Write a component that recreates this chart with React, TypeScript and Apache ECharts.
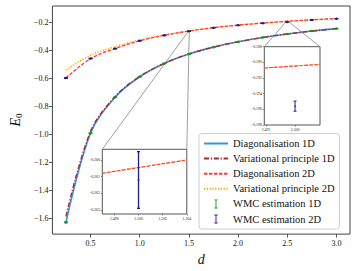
import React, { useEffect, useRef } from "react";
import * as echarts from "echarts";

// ---- data ----
const dValues = [0.25, 0.5, 0.75, 1.0, 1.25, 1.5, 1.75, 2.0, 2.25, 2.5, 2.75, 3.0];
const diag1D = [-1.629, -0.99, -0.733, -0.587, -0.492, -0.425, -0.375, -0.337, -0.306, -0.281, -0.26, -0.243];
const var1D = [-1.585, -0.977, -0.728, -0.585, -0.491, -0.424, -0.375, -0.337, -0.306, -0.281, -0.26, -0.243];
const diag2D = [-0.595, -0.458, -0.385, -0.33, -0.291, -0.2605, -0.236, -0.218, -0.203, -0.1905, -0.18, -0.171];
const var2D = [-0.54, -0.433, -0.372, -0.323, -0.288, -0.2603, -0.236, -0.218, -0.203, -0.1905, -0.18, -0.171];
const wmc1D = [-1.628, -0.991, -0.733, -0.587, -0.492, -0.425, -0.376, -0.337, -0.306, -0.281, -0.26, -0.243];
const wmc1DErr = [0.004, 0.003, 0.002, 0.002, 0.002, 0.002, 0.002, 0.002, 0.002, 0.002, 0.002, 0.002];
const wmc2D = [-0.596, -0.457, -0.386, -0.33, -0.291, -0.2612, -0.237, -0.219, -0.204, -0.1956, -0.181, -0.172];
const wmc2DErr = [0.003, 0.002, 0.002, 0.002, 0.002, 0.0017, 0.001, 0.001, 0.001, 0.00065, 0.001, 0.001];

// inset 1 (zoom near d = 1.5)
const inset1D = [1.497, 1.504];
const inset1Diag2D = [-0.2608, -0.26];
const inset1Var2D = [-0.26079, -0.25999];
// inset 2 (zoom near d = 2.5)
const inset2D = [2.4947, 2.5043];
const inset2Diag2D = [-0.19072, -0.19026];
const inset2Var2D = [-0.19071, -0.19025];

// ticks
const xTicks = [0.5, 1.0, 1.5, 2.0, 2.5, 3.0];
const yTicks = [-1.6, -1.4, -1.2, -1.0, -0.8, -0.6, -0.4, -0.2];
const inset1XTicks = [1.498, 1.5, 1.502, 1.504];
const inset1YTicks = [-0.263, -0.262, -0.261, -0.26];
const inset2XTicks = [2.495, 2.5];
const inset2YTicks = [-0.198, -0.196, -0.194, -0.192, -0.19, -0.188];

// axis ranges
const MAIN_X = [0.1125, 3.1375];
const MAIN_Y = [-1.712, -0.081];
const INSET1_X = [1.497, 1.504];
const INSET1_Y = [-0.26324, -0.25936];
const INSET2_X = [2.4947, 2.5043];
const INSET2_Y = [-0.198, -0.188];

const NAMES = [
  "Diagonalisation 1D",
  "Variational principle 1D",
  "Diagonalisation 2D",
  "Variational principle 2D",
  "WMC estimation 1D",
  "WMC estimation 2D",
];

const C_DIAG1 = "#3a93da";
const C_VAR1 = "#a52a2a";
const C_DIAG2 = "#ff3a3a";
const C_VAR2 = "#ffa500";
const C_WMC1 = "#119911";
const C_WMC2 = "#1c1c8c";

const FONT = "Liberation Serif";

const fmt = (v: number, dec: number) => (v < 0 ? "\u2212" : "") + Math.abs(v).toFixed(dec);
const zip = (xs: number[], ys: number[]) => xs.map((x, i) => [x, ys[i]]);
const zip3 = (xs: number[], ys: number[], es: number[]) => xs.map((x, i) => [x, ys[i], es[i]]);

const INSET1 = { left: 102.3, top: 149.3, width: 84.5, height: 64.7 };
const INSET2 = { left: 264.3, top: 46.7, width: 55.7, height: 78.3 };

function errorBar(color: string, capHalf: number, lw: number, r: number, opacity = 1) {
  return (params: any, api: any) => {
    const x = api.value(0);
    const y = api.value(1);
    const e = api.value(2);
    const c = api.coord([x, y]);
    const hi = api.coord([x, y + e]);
    const lo = api.coord([x, y - e]);
    const st = { stroke: color, lineWidth: lw, opacity };
    return {
      type: "group",
      children: [
        { type: "line", shape: { x1: c[0], y1: hi[1], x2: c[0], y2: lo[1] }, style: st },
        { type: "line", shape: { x1: c[0] - capHalf, y1: hi[1], x2: c[0] + capHalf, y2: hi[1] }, style: st },
        { type: "line", shape: { x1: c[0] - capHalf, y1: lo[1], x2: c[0] + capHalf, y2: lo[1] }, style: st },
        { type: "circle", shape: { cx: c[0], cy: c[1], r }, style: { fill: color, opacity } },
      ],
    };
  };
}

function lineSeries(name: string, data: number[][], color: string, width: number, type: any, idx: number, z: number) {
  return {
    type: "line",
    name,
    data,
    xAxisIndex: idx,
    yAxisIndex: idx,
    symbol: "none",
    smooth: 0.35,
    z,
    lineStyle: { color, width, type, cap: "butt" },
    itemStyle: { color },
  };
}

function insetAxes(idx: number, xr: number[], yr: number[], xt: number[], yt: number[], xdec: number, ydec: number) {
  const common = {
    gridIndex: idx,
    type: "value",
    splitLine: { show: false },
    axisLine: { show: false },
  };
  return {
    x: {
      ...common,
      min: xr[0],
      max: xr[1],
      axisTick: { show: true, customValues: xt, length: 1.5, lineStyle: { color: "#444", width: 0.6 } },
      axisLabel: { customValues: xt, formatter: (v: number) => fmt(v, xdec), fontSize: 3.8, margin: 2.5, color: "#222", fontFamily: FONT },
    },
    y: {
      ...common,
      min: yr[0],
      max: yr[1],
      axisTick: { show: true, customValues: yt, length: 1.5, lineStyle: { color: "#444", width: 0.6 } },
      axisLabel: { customValues: yt, formatter: (v: number) => fmt(v, ydec), fontSize: 3.8, margin: 2.5, color: "#222", fontFamily: FONT },
    },
  };
}

const errIcon =
  "path://M0,0h0.01v0.01h-0.01zM24,12h-0.01v-0.01h0.01zM10.4,1.5h3.2v0.9h-3.2zM10.4,9.6h3.2v0.9h-3.2zM11.55,2h0.9v8h-0.9z";

export default function App() {
  const ref = useRef<HTMLDivElement>(null);
  useEffect(() => {
    const chart = echarts.init(ref.current!, null, { renderer: "svg" });
    const a1 = insetAxes(1, INSET1_X, INSET1_Y, inset1XTicks, inset1YTicks, 3, 3);
    const a2 = insetAxes(2, INSET2_X, INSET2_Y, inset2XTicks, inset2YTicks, 3, 3);
    const inRange = (xr: number[]) =>
      zip3(dValues, wmc2D, wmc2DErr).filter((p) => p[0] >= xr[0] && p[0] <= xr[1]);
    const hideSym = { itemStyle: { opacity: 0 } };

    const option: any = {
      animation: false,
      backgroundColor: "#fff",
      textStyle: { fontFamily: FONT },
      grid: [
        { left: 47, top: 6, width: 303, height: 229, show: true, borderColor: "#444", borderWidth: 1, backgroundColor: "transparent" },
        { ...INSET1, show: true, borderColor: "#555", borderWidth: 1, backgroundColor: "#fff" },
        { ...INSET2, show: true, borderColor: "#555", borderWidth: 1, backgroundColor: "#fff" },
      ],
      xAxis: [
        {
          gridIndex: 0,
          type: "value",
          min: MAIN_X[0],
          max: MAIN_X[1],
          splitLine: { show: false },
          axisLine: { show: false },
          axisTick: { show: true, customValues: xTicks, length: 3.5, lineStyle: { color: "#333", width: 0.8 } },
          axisLabel: { customValues: xTicks, formatter: (v: number) => v.toFixed(1), fontSize: 8, margin: 5, color: "#111", fontFamily: FONT },
          name: "d",
          nameLocation: "middle",
          nameGap: 17,
          nameTextStyle: { fontFamily: FONT, fontStyle: "italic", fontSize: 14, color: "#111" },
        },
        a1.x,
        a2.x,
      ],
      yAxis: [
        {
          gridIndex: 0,
          type: "value",
          min: MAIN_Y[0],
          max: MAIN_Y[1],
          splitLine: { show: false },
          axisLine: { show: false },
          axisTick: { show: true, customValues: yTicks, length: 3.5, lineStyle: { color: "#333", width: 0.8 } },
          axisLabel: { customValues: yTicks, formatter: (v: number) => fmt(v, 1), fontSize: 8, margin: 4, color: "#111", fontFamily: FONT },
          name: "{e|E}{s|0}",
          nameLocation: "middle",
          nameRotate: 90,
          nameGap: 28,
          nameTextStyle: {
            rich: {
              e: { fontFamily: FONT, fontStyle: "italic", fontSize: 14, color: "#111", lineHeight: 16 },
              s: { fontFamily: FONT, fontSize: 9, color: "#111", lineHeight: 16, padding: [6, 0, 0, 0] },
            },
          },
        },
        a1.y,
        a2.y,
      ],
      legend: {
        orient: "vertical",
        left: 199,
        top: 133.5,
        padding: [4, 5, 4, 4],
        itemWidth: 24,
        itemHeight: 12,
        itemGap: 3.1,
        backgroundColor: "rgba(255,255,255,0.9)",
        borderColor: "#cfcfcf",
        borderWidth: 1,
        borderRadius: 3,
        textStyle: { fontFamily: FONT, fontSize: 10.5, color: "#111", lineHeight: 12 },
        data: [
          { name: NAMES[0], ...hideSym },
          { name: NAMES[1], ...hideSym },
          { name: NAMES[2], ...hideSym },
          { name: NAMES[3], ...hideSym },
          { name: NAMES[4], icon: errIcon },
          { name: NAMES[5], icon: errIcon },
        ],
      },
      series: [
        lineSeries(NAMES[0], zip(dValues, diag1D), C_DIAG1, 1.6, "solid", 0, 2),
        lineSeries(NAMES[1], zip(dValues, var1D), C_VAR1, 1.4, [5, 1.8, 1.2, 1.8], 0, 3),
        lineSeries(NAMES[3], zip(dValues, var2D), C_VAR2, 1.5, [1.2, 1.6], 0, 4),
        lineSeries(NAMES[2], zip(dValues, diag2D), C_DIAG2, 1.3, [3.5, 1.5], 0, 5),
        {
          type: "custom",
          name: NAMES[4],
          xAxisIndex: 0,
          yAxisIndex: 0,
          z: 6,
          itemStyle: { color: C_WMC1 },
          renderItem: errorBar(C_WMC1, 2, 1, 1.2),
          data: zip3(dValues, wmc1D, wmc1DErr),
        },
        {
          type: "custom",
          name: NAMES[5],
          xAxisIndex: 0,
          yAxisIndex: 0,
          z: 6,
          itemStyle: { color: C_WMC2 },
          renderItem: errorBar(C_WMC2, 2, 1, 1.2),
          data: zip3(dValues, wmc2D, wmc2DErr),
        },
        // inset 1
        lineSeries(NAMES[3], zip(inset1D, inset1Var2D), C_VAR2, 1.1, [1.2, 1.6], 1, 4),
        lineSeries(NAMES[2], zip(inset1D, inset1Diag2D), C_DIAG2, 1.2, [3.5, 1.5], 1, 5),
        {
          type: "custom",
          name: NAMES[5],
          xAxisIndex: 1,
          yAxisIndex: 1,
          z: 6,
          itemStyle: { color: C_WMC2 },
          renderItem: errorBar(C_WMC2, 1.5, 1.3, 0.9),
          data: inRange(INSET1_X),
        },
        // inset 2
        lineSeries(NAMES[3], zip(inset2D, inset2Var2D), C_VAR2, 1.1, [1.2, 1.6], 2, 4),
        lineSeries(NAMES[2], zip(inset2D, inset2Diag2D), C_DIAG2, 1.2, [3.5, 1.5], 2, 5),
        {
          type: "custom",
          name: NAMES[5],
          xAxisIndex: 2,
          yAxisIndex: 2,
          z: 6,
          itemStyle: { color: C_WMC2 },
          renderItem: errorBar(C_WMC2, 1.5, 1.3, 0.9, 0.75),
          data: inRange(INSET2_X),
        },
      ],
    };
    chart.setOption(option);

    // connector lines (mark_inset style)
    const toPx = (p: number[]) => chart.convertToPixel({ gridIndex: 0 }, p) as number[];
    const connectors: any[] = [];
    const addInset = (box: any, xr: number[], yr: number[]) => {
      const rTL = toPx([xr[0], yr[1]]);
      const rTR = toPx([xr[1], yr[1]]);
      const rBR = toPx([xr[1], yr[0]]);
      const ls = { stroke: "#888", lineWidth: 0.8, fill: null };
      connectors.push({
        type: "polygon",
        shape: { points: [rTL, rTR, rBR, [rTL[0], rBR[1]]] },
        style: ls,
        silent: true,
        z: 1,
      });
      connectors.push({ type: "line", shape: { x1: box.left, y1: box.top, x2: rTL[0], y2: rTL[1] }, style: ls, silent: true, z: 1 });
      connectors.push({ type: "line", shape: { x1: box.left + box.width, y1: box.top, x2: rTR[0], y2: rTR[1] }, style: ls, silent: true, z: 1 });
    };
    addInset(INSET1, INSET1_X, INSET1_Y);
    addInset(INSET2, INSET2_X, INSET2_Y);
    chart.setOption({ graphic: connectors });

    return () => chart.dispose();
  }, []);
  return <div ref={ref} style={{ position: "fixed", left: 0, top: 0, width: 357, height: 271 }} />;
}
